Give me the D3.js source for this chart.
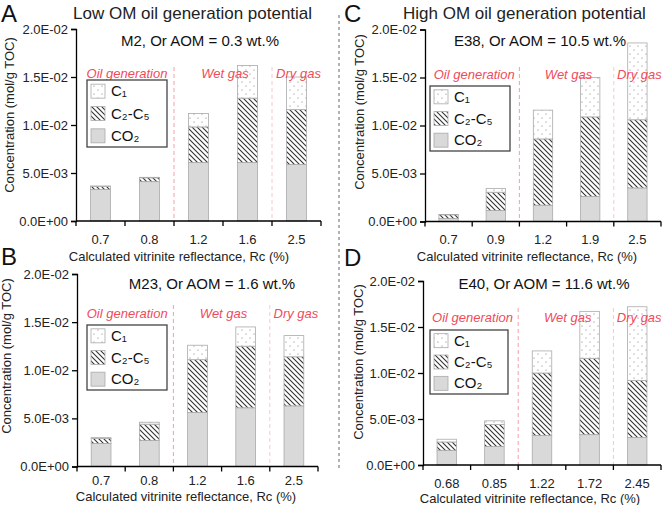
<!DOCTYPE html>
<html><head><meta charset="utf-8">
<script src="https://cdn.jsdelivr.net/npm/d3@7"></script>
<style>body{margin:0;background:#fff}svg{display:block}text{font-family:"Liberation Sans",Arial,sans-serif}</style>
</head><body><svg id="c" width="666" height="505"></svg>
<script>
// ---------- data ----------
const seriesNames = ["CO₂", "C₂-C₅", "C₁"];
const yTicks = [0, 0.005, 0.01, 0.015, 0.02];
const yTickLabels = ["0.0E+00", "5.0E-03", "1.0E-02", "1.5E-02", "2.0E-02"];
const zoneNames = ["Oil generation", "Wet gas", "Dry gas"];

const rcA = ["0.7", "0.8", "1.2", "1.6", "2.5"];
const co2A = [0.0033, 0.0041, 0.0061, 0.0061, 0.0059];
const c2c5A = [0.0003, 0.0004, 0.0037, 0.0067, 0.0057];
const c1A = [0.00005, 0.00005, 0.0014, 0.0034, 0.0034];

const rcB = ["0.7", "0.8", "1.2", "1.6", "2.5"];
const co2B = [0.0024, 0.0027, 0.0056, 0.0061, 0.0063];
const c2c5B = [0.0005, 0.0017, 0.0055, 0.0064, 0.0051];
const c1B = [0.0001, 0.0002, 0.0015, 0.0020, 0.0022];

const rcC = ["0.7", "0.9", "1.2", "1.9", "2.5"];
const co2C = [0.0003, 0.00115, 0.0017, 0.0026, 0.0035];
const c2c5C = [0.0004, 0.0019, 0.0069, 0.0083, 0.0071];
const c1C = [0.00002, 0.0004, 0.0030, 0.0041, 0.0080];

const rcD = ["0.68", "0.85", "1.22", "1.72", "2.45"];
const co2D = [0.0016, 0.0020, 0.0032, 0.0033, 0.0030];
const c2c5D = [0.0009, 0.0024, 0.0068, 0.0083, 0.0062];
const c1D = [0.0003, 0.0004, 0.0024, 0.0051, 0.0080];

// ---------- layout ----------
const panels = [
  {letter:"A", lx:1, ly:22, title:"Low OM oil generation potential", tx:73, ty:19,
   sub:"M2, Or AOM = 0.3 wt.%", sx:200, sy:46,
   cats:rcA, s:[co2A,c2c5A,c1A], x0:76, x1:321, y0:221, y1:29, zoneTop:67,
   leg:[87,80,80,67], ylx:14, yly:115, xtY:244, xlY:261, xlX:179, zoneY:78},
  {letter:"B", lx:1, ly:265, title:null,
   sub:"M23, Or AOM = 1.6 wt.%", sx:212, sy:289,
   cats:rcB, s:[co2B,c2c5B,c1B], x0:77, x1:318, y0:466.5, y1:274, zoneTop:305,
   leg:[87,325,80,65], ylx:11, yly:356, xtY:485, xlY:501, xlX:186, zoneY:318},
  {letter:"C", lx:344, ly:22, title:"High OM oil generation potential", tx:403, ty:19,
   sub:"E38, Or AOM = 10.5 wt.%", sx:540, sy:46,
   cats:rcC, s:[co2C,c2c5C,c1C], x0:425, x1:661, y0:221.5, y1:29.5, zoneTop:67,
   leg:[430,86,80,65], ylx:364, yly:112, xtY:244, xlY:261, xlX:527, zoneY:79},
  {letter:"D", lx:344, ly:266, title:null,
   sub:"E40, Or AOM = 11.6 wt.%", sx:544, sy:289,
   cats:rcD, s:[co2D,c2c5D,c1D], x0:423, x1:661, y0:465, y1:281, zoneTop:308,
   leg:[430,330,78,64], ylx:363, yly:362, xtY:488, xlY:502.5, xlX:530, zoneY:322}
];

const svg = d3.select("#c");
const defs = svg.append("defs");
const hatch = defs.append("pattern").attr("id","hatch").attr("patternUnits","userSpaceOnUse")
  .attr("width",5).attr("height",5);
hatch.append("rect").attr("width",5).attr("height",5).attr("fill","#fff");
hatch.append("path").attr("d","M0,0L5,5M-1,4L1,6M4,-1L6,1").attr("stroke","#333").attr("stroke-width",1.1);
const dots = defs.append("pattern").attr("id","dots").attr("patternUnits","userSpaceOnUse")
  .attr("width",8).attr("height",8);
dots.append("rect").attr("width",8).attr("height",8).attr("fill","#fff");
dots.append("circle").attr("cx",2).attr("cy",2).attr("r",0.6).attr("fill","#777");
dots.append("circle").attr("cx",6).attr("cy",6).attr("r",0.6).attr("fill","#777");
const fills = ["#d9d9d9","url(#hatch)","url(#dots)"];

// divider
svg.append("line").attr("x1",339).attr("x2",339).attr("y1",15).attr("y2",470)
  .attr("stroke","#666").attr("stroke-width",1).attr("stroke-dasharray","3,3");

panels.forEach(p => {
  const g = svg.append("g");
  const x = d3.scaleBand().domain(p.cats).range([p.x0, p.x1]).padding(0);
  const y = d3.scaleLinear().domain([0, 0.02]).range([p.y0, p.y1]);
  const bw = x.bandwidth() * 0.41;

  // zone dashed lines
  [p.cats[2], p.cats[4]].forEach((c, i) => {
    g.append("line").attr("x1", x(c)).attr("x2", x(c)).attr("y1", p.zoneTop).attr("y2", p.y0)
      .attr("stroke", i === 0 ? "#f3a0a6" : "#f8c6ca").attr("stroke-width",1).attr("stroke-dasharray","4,3");
  });

  // stacked bars
  const stackData = p.cats.map((c, i) => ({cat:c, s0:p.s[0][i], s1:p.s[1][i], s2:p.s[2][i]}));
  const stacked = d3.stack().keys(["s0","s1","s2"])(stackData);
  stacked.forEach((layer, li) => {
    g.selectAll(null).data(layer).enter().append("rect")
      .attr("x", d => x(d.data.cat) + (x.bandwidth() - bw)/2)
      .attr("y", d => y(d[1]))
      .attr("width", bw)
      .attr("height", d => Math.max(0, y(d[0]) - y(d[1])))
      .attr("fill", fills[li]).attr("stroke","#aaa").attr("stroke-width",0.8);
  });

  // zone labels (drawn above bars)
  const zc = [ (x(p.cats[0]) + x(p.cats[1]) + x.bandwidth())/2,
               (x(p.cats[2]) + x(p.cats[3]) + x.bandwidth())/2,
               x(p.cats[4]) + x.bandwidth()/2 ];
  zoneNames.forEach((z, i) => {
    g.append("text").attr("x", zc[i] + 2).attr("y", p.zoneY).attr("text-anchor","middle")
      .attr("font-size",13).attr("font-style","italic").attr("fill","#ef4b5a").text(z);
  });

  // y axis
  const ya = d3.axisLeft(y).tickValues(yTicks).tickFormat((d,i) => yTickLabels[i]).tickSize(5).tickPadding(3);
  const yg = g.append("g").attr("transform",`translate(${p.x0},0)`).call(ya);
  yg.select(".domain").attr("stroke","#000").attr("stroke-width",1.3);
  yg.selectAll(".tick line").attr("stroke","#000").attr("stroke-width",1.3);
  yg.selectAll("text").attr("font-size",13).attr("fill","#222").style("font-family",'"Liberation Sans",Arial,sans-serif');

  // x axis: line + boundary ticks + labels
  g.append("line").attr("x1",p.x0).attr("x2",p.x1).attr("y1",p.y0).attr("y2",p.y0)
    .attr("stroke","#000").attr("stroke-width",1.3);
  const bounds = p.cats.map(c => x(c)).concat([p.x1]);
  g.selectAll(null).data(bounds).enter().append("line")
    .attr("x1",d=>d).attr("x2",d=>d).attr("y1",p.y0).attr("y2",p.y0+5)
    .attr("stroke","#000").attr("stroke-width",1.3);
  g.selectAll(null).data(p.cats).enter().append("text")
    .attr("x", d => x(d) + x.bandwidth()/2).attr("y", p.xtY).attr("text-anchor","middle")
    .attr("font-size",13).attr("fill","#222").text(d => d);
  g.append("text").attr("x",p.xlX).attr("y",p.xlY).attr("text-anchor","middle")
    .attr("font-size",13).attr("fill","#222").text("Calculated vitrinite reflectance, Rc (%)");
  g.append("text").attr("transform",`translate(${p.ylx},${p.yly}) rotate(-90)`).attr("text-anchor","middle")
    .attr("font-size",13).attr("fill","#222").text("Concentration (mol/g TOC)");

  // titles
  g.append("text").attr("x",p.lx).attr("y",p.ly).attr("font-size",24).attr("fill","#111").text(p.letter);
  if (p.title) g.append("text").attr("x",p.tx).attr("y",p.ty).attr("font-size",17).attr("fill","#222").text(p.title);
  g.append("text").attr("x",p.sx).attr("y",p.sy).attr("text-anchor","middle").attr("font-size",15).attr("fill","#111").text(p.sub);

  // legend
  const [lx, ly, lw, lh] = p.leg;
  g.append("rect").attr("x",lx).attr("y",ly).attr("width",lw).attr("height",lh)
    .attr("fill","#fff").attr("stroke","#444").attr("stroke-width",1.3);
  const order = [2,1,0];
  order.forEach((si, k) => {
    const cy = ly + lh*(k*2+1)/6;
    g.append("rect").attr("x",lx+4).attr("y",cy-7).attr("width",14).attr("height",14)
      .attr("fill",fills[si]).attr("stroke","#aaa").attr("stroke-width",0.8);
    g.append("text").attr("x",lx+24).attr("y",cy+5).attr("font-size",15).attr("fill","#111").text(seriesNames[si]);
  });
});
</script></body></html>
